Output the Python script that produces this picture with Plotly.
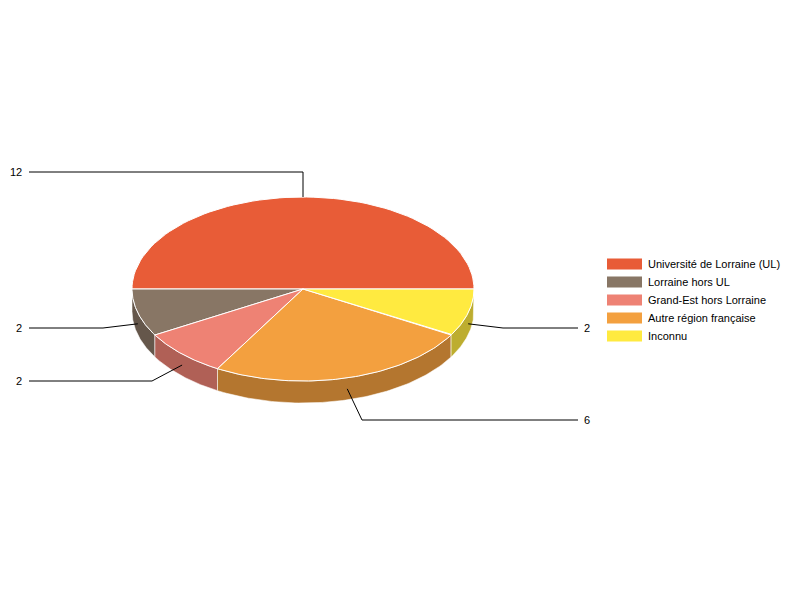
import numpy as np
import plotly.graph_objects as go

# -- data
categories = ['Université de Lorraine (UL)', 'Lorraine hors UL', 'Grand-Est hors Lorraine',
              'Autre région française', 'Inconnu']
values = [12, 2, 2, 6, 2]
colors = ['#E85C37', '#887665', '#EE8274', '#F3A03F', '#FFEA40']

# -- leader lines and labels, one per category
elbow_x = [303, 103, 152, 362, 503]
elbow_y = [172, 328, 381, 420, 328]
end_x = [29, 29, 29, 578, 578]
label_x = [16, 19, 19, 587, 587]

# -- pie geometry in page pixels
cx, cy = 303, 289
rx, ry = 171, 92
depth = 22
shade = 0.74

legend_x = 607
legend_y = 264
legend_step = 18


def arc(a0, a1, offset=0):
    # angles in degrees, counter clockwise from the right
    t = np.radians(np.linspace(a0, a1, 80))
    return cx + rx * np.cos(t), cy - ry * np.sin(t) + offset


def darker(color):
    r, g, b = [int(color[i:i + 2], 16) for i in (1, 3, 5)]
    return f'rgb({r * shade:.0f},{g * shade:.0f},{b * shade:.0f})'


fig = go.Figure()

edges = np.concatenate([[0], np.cumsum(values)]) / sum(values) * 360

# -- side walls (only the front half of the pie shows one)
for i, color in enumerate(colors):
    a0, a1 = max(edges[i], 180), min(edges[i + 1], 360)
    if a1 <= a0:
        continue
    x_top, y_top = arc(a0, a1)
    x_bot, y_bot = arc(a1, a0, depth)
    fig.add_trace(go.Scatter(x=np.concatenate([x_top, x_bot, x_top[:1]]),
                             y=np.concatenate([y_top, y_bot, y_top[:1]]),
                             mode='lines', fill='toself', fillcolor=darker(color),
                             line=dict(color='rgba(255,255,255,0.55)', width=1),
                             hoverinfo='skip', showlegend=False))

# -- top faces
for i, color in enumerate(colors):
    x_arc, y_arc = arc(edges[i], edges[i + 1])
    fig.add_trace(go.Scatter(x=np.concatenate([[cx], x_arc, [cx]]),
                             y=np.concatenate([[cy], y_arc, [cy]]),
                             mode='lines', fill='toself', fillcolor=color,
                             line=dict(color='white', width=1),
                             name=categories[i], text=f'{categories[i]}: {values[i]}',
                             hoverinfo='text', showlegend=False))

# -- leader lines
for i, val in enumerate(values):
    mid = (edges[i] + edges[i + 1]) / 2
    x_mid, y_mid = arc(mid, mid)
    start_y = y_mid[0] + (depth / 2 if mid > 180 else 0)
    fig.add_trace(go.Scatter(x=[x_mid[0], elbow_x[i], end_x[i]],
                             y=[start_y, elbow_y[i], elbow_y[i]],
                             mode='lines', line=dict(color='black', width=1),
                             hoverinfo='skip', showlegend=False))
    fig.add_annotation(x=label_x[i], y=elbow_y[i], text=str(val), showarrow=False,
                       xanchor='center', yanchor='middle',
                       font=dict(family='Liberation Sans', size=11, color='black'))

# -- legend
for i, name in enumerate(categories):
    y = legend_y + i * legend_step
    fig.add_shape(type='rect', x0=legend_x, x1=legend_x + 35, y0=y - 5.5, y1=y + 5.5,
                  fillcolor=colors[i], line=dict(width=0))
    fig.add_annotation(x=legend_x + 39, y=y, text=name, showarrow=False,
                       xanchor='left', yanchor='middle',
                       font=dict(family='Liberation Sans', size=11, color='black'))

# the page has an 8px body margin, the ranges start at 8 so data units stay page pixels
fig.update_layout(width=784, height=584, margin=dict(l=0, r=0, t=0, b=0),
                  paper_bgcolor='white', plot_bgcolor='white', showlegend=False,
                  xaxis=dict(range=[8, 792], visible=False, fixedrange=True),
                  yaxis=dict(range=[592, 8], visible=False, fixedrange=True))

fig.write_html("out.html")
